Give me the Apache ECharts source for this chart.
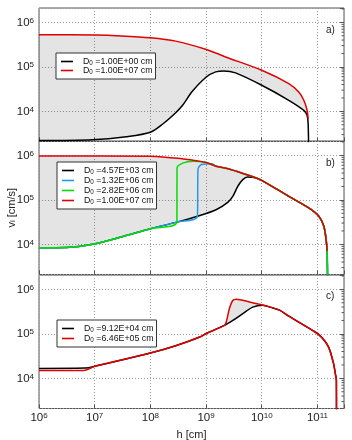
<!DOCTYPE html>
<html><head><meta charset="utf-8">
<script src="https://cdn.jsdelivr.net/npm/echarts@6/dist/echarts.min.js"></script>
<style>html,body{margin:0;padding:0;background:#fff}#c{width:352px;height:440px}</style>
</head><body><div id="c"></div>
<script>
// ---- tick labels (exponents of 10) ----
const xTickExps = [6, 7, 8, 9, 10, 11];
const yTickExps = [4, 5, 6];
const yMinorMult = [2, 3, 4, 5, 6, 7, 8, 9];
const yMinorDecades = [1e3, 1e4, 1e5, 1e6];
const panelTags = ['a)', 'b)', 'c)'];

// ---- panel a ----
const aNames = ['1.00E+00', '1.00E+07'];
const aBlack = [[1e6,2.2e3],[9.1e6,2.3e3],[3.7e7,2.7e3],[1e8,3.4e3],[1.67e8,5.2e3],[2.85e8,9.3e3],[3.76e8,1.35e4],
  [5.68e8,2.82e4],[1.01e9,5.9e4],[1.49e9,7.7e4],[2.09e9,8.1e4],[3.39e9,7.3e4],[1e10,3.85e4],[3.06e10,1.77e4],
  [5.69e10,1.05e4],[6.53e10,8.1e3],[6.81e10,5.2e3],[6.98e10,1e3]];
const aRed = [[1e6,5.25e5],[1e7,5.18e5],[3e7,4.95e5],[1e8,4.5e5],[2.85e8,3.78e5],[1.01e9,2.46e5],[2.24e9,1.67e5],
  [1e10,8.4e4],[3.06e10,4.2e4],[4.62e10,2.72e4],[5.69e10,1.77e4],[6.53e10,1.05e4],[6.81e10,6.8e3]];

// ---- panel b ----
const bNames = ['4.57E+03', '1.32E+06', '2.82E+06', '1.00E+07'];
const bLow = [[1e6,8.4e3],[3.16e6,8.5e3],[9.1e6,1.0e4],[3.2e7,1.5e4],[1e8,2.24e4],[3.0e8,3.16e4]];
const bMid = [[7.0e8,4.27e4]];
const bGreenRise = [[3.01e8,5.2e5],[3.9e8,6.76e5],[5.9e8,7.35e5],[1.01e9,6.9e5]];
const bBlueRise = [[7.16e8,4.8e5],[8.3e8,6.2e5],[1.26e9,6.46e5]];
const bBlackRise = [[1.51e9,6.0e4],[2.45e9,8.8e4],[3.02e9,1.2e5],[3.72e9,2.02e5],[4.57e9,2.85e5],[5.62e9,3.24e5]];
const bRed = [[1e6,9.7e5],[1e8,9.6e5],[3.9e8,8.3e5],[1.01e9,6.9e5],[1.51e9,5.7e5],[2.5e9,5.0e5],[5.25e9,3.7e5],
  [7.94e9,3.1e5],[1e10,2.75e5],[3.06e10,1.2e5],[7.0e10,6.6e4],[1.06e11,4.27e4],[1.3e11,2.57e4],[1.43e11,1.29e4],[1.49e11,7.1e3]];
const bDrop = [[1.53e11,1e3]];

// ---- panel c ----
const cNames = ['9.12E+04', '6.46E+05'];
const cBlackStart = [[1e6,1.67e4],[6.6e6,1.7e4]];
const cRedStart = [[1e6,1.5e4],[6.3e6,1.5e4]];
const cLow = [[1e7,1.86e4],[1e8,3.7e4],[2.85e8,5.4e4],[7.7e8,8.5e4],[1.01e9,1.02e5],[2.14e9,1.55e5]];
const cBlackMid = [[3.02e9,2.0e5],[4.57e9,2.85e5],[6.9e9,3.98e5],[1.05e10,4.37e5],[1.58e10,3.8e5]];
const cRedMid = [[2.31e9,1.86e5],[2.63e9,3.7e5],[3.02e9,5.6e5],[3.47e9,5.97e5],[6.0e9,5.2e5],[1.2e10,4.23e5]];
const cTail = [[2.09e10,3.4e5],[3.06e10,2.5e5],[9.1e10,1.1e5],[1.2e11,8.3e4],[1.58e11,5.1e4],[1.95e11,2.14e4],
  [2.09e11,1.29e4],[2.19e11,9.1e3],[2.2e11,1e3]];

// ---- build curves ----
const after = (arr, x) => arr.filter(p => p[0] > x);
const bGreen = bLow.concat(bGreenRise, after(bRed, 1.01e9), bDrop);
const bBlue = bLow.concat(bMid, bBlueRise, after(bRed, 1.3e9), bDrop);
const bBlack = bLow.concat(bMid, bBlackRise, after(bRed, 5.7e9), bDrop);
const cBlack = cBlackStart.concat(cLow, cBlackMid, cTail);
const cRed = cRedStart.concat(cLow, cRedMid, cTail);
const yMinor = [];
yMinorDecades.forEach(d => yMinorMult.forEach(m => yMinor.push(d * m)));

const FONT = "'Liberation Sans',Arial,sans-serif";
const TXT = '#222';
const tops = [8, 141, 275];
const H = 133.5;
const XMIN = 1e6, XMAX = 3e11, YMIN = 2.1e3, YMAX = 2.1e6;
const SMOOTH = 0.3;

function expLabel(v, exps) {
  const l = Math.log10(v), e = Math.round(l);
  if (Math.abs(l - e) > 1e-6 || exps.indexOf(e) < 0) return '';
  return '{b|10}{s|' + e + '}';
}
const labRich = {
  b: {fontSize: 11.5, fontFamily: FONT, color: TXT},
  s: {fontSize: 8, fontFamily: FONT, color: TXT, verticalAlign: 'top'}
};
const gridLine = {show: true, lineStyle: {color: '#9a9a9a', width: 1, type: [1, 2]}};

const grids = [], xAxes = [], yAxes = [], series = [], legends = [], titles = [];
for (let i = 0; i < 3; i++) {
  grids.push({left: 39, width: 305, top: tops[i], height: H, show: true, borderColor: '#555', borderWidth: 1,
    backgroundColor: 'transparent', outerBoundsMode: 'none', containLabel: false});
  xAxes.push({type: 'log', logBase: 10, gridIndex: i, min: XMIN, max: XMAX,
    axisLine: {show: false}, axisTick: {show: true, inside: true, length: 4, lineStyle: {color: '#555'}},
    axisLabel: {show: i === 2, margin: 3, formatter: v => expLabel(v, xTickExps), rich: labRich,
      showMinLabel: true, showMaxLabel: true},
    splitLine: gridLine,
    name: i === 2 ? 'h [cm]' : '', nameLocation: 'middle', nameGap: 21,
    nameTextStyle: {fontSize: 11, fontFamily: FONT, color: TXT}});
  yAxes.push({type: 'log', logBase: 10, gridIndex: i, min: YMIN, max: YMAX, position: 'left',
    axisLine: {show: false}, axisTick: {show: false},
    axisLabel: {margin: 5, formatter: v => expLabel(v, yTickExps), rich: labRich},
    splitLine: gridLine,
    name: i === 1 ? '{n|v}{u|i}{n| [cm/s]}' : '', nameLocation: 'middle', nameGap: 22, nameRotate: 90,
    nameMoveOverlap: false,
    nameTextStyle: {rich: {n: {fontSize: 11, fontFamily: FONT, color: TXT},
      u: {fontSize: 7.5, fontFamily: FONT, color: TXT, verticalAlign: 'bottom'}}}});
  yAxes.push({type: 'log', logBase: 10, gridIndex: i, min: YMIN, max: YMAX, position: 'right',
    axisLine: {show: false}, axisLabel: {show: false}, splitLine: {show: false},
    axisTick: {show: true, inside: true, length: 4, lineStyle: {color: '#555'}}});
  titles.push({text: panelTags[i], left: 326, top: [25, 158, 291][i], padding: 0,
    textStyle: {fontSize: 10, fontWeight: 'normal', fontFamily: FONT, color: TXT}});
  // minor ticks on the right edge, placed through the axis scale
  series.push({type: 'custom', xAxisIndex: i, yAxisIndex: 2 * i + 1, z: 4, silent: true, animation: false,
    data: yMinor.filter(v => v > YMIN && v < YMAX).map(v => [XMAX, v]),
    renderItem: (params, api) => {
      const p = api.coord([api.value(0), api.value(1)]);
      return {type: 'line', shape: {x1: p[0] - 2.5, y1: p[1], x2: p[0], y2: p[1]},
        style: {stroke: '#555', lineWidth: 1}};
    }});
}

function fill(i, upper, lower) {
  series.push({type: 'custom', xAxisIndex: i, yAxisIndex: 2 * i, z: 1, silent: true, animation: false,
    data: [[XMIN, YMIN]],
    renderItem: (params, api) => {
      const up = upper.map(p => api.coord(p));
      const lo = lower.slice().reverse().map(p => api.coord(p));
      return {type: 'polygon', shape: {points: up.concat(lo)}, style: {fill: 'rgba(0,0,0,0.105)', stroke: null}};
    }});
}
function line(i, tag, name, data, color) {
  series.push({type: 'line', name: tag + ':' + name, xAxisIndex: i, yAxisIndex: 2 * i, data: data,
    symbol: 'none', showSymbol: false, clip: true, animation: false, z: 3,
    smooth: SMOOTH,
    lineStyle: {color: color, width: 1.5}, itemStyle: {color: color}});
}

fill(0, aRed, aBlack.slice(0, -1));
line(0, 'a', aNames[0], aBlack, '#000000');
line(0, 'a', aNames[1], aRed, '#e00000');

fill(1, bRed, bBlack.slice(0, -1));
line(1, 'b', bNames[0], bBlack, '#000000');
line(1, 'b', bNames[1], bBlue, '#1f9be8');
line(1, 'b', bNames[2], bGreen, '#00dd00');
line(1, 'b', bNames[3], bRed, '#e00000');

fill(2, cRedMid.concat([cTail[0]]), cLow.slice(-1).concat(cBlackMid, [cTail[0]]));
line(2, 'c', cNames[0], cBlack, '#000000');
line(2, 'c', cNames[1], cRed, '#e00000');

const legRich = {
  d: {fontSize: 8.8, fontFamily: FONT, color: '#111', padding: [0, 0, 0, 5]},
  t: {fontSize: 8.8, fontFamily: FONT, color: '#111'},
  u: {fontSize: 6.3, fontFamily: FONT, color: '#111', verticalAlign: 'bottom'}
};
function legend(tag, names, left, top, gap) {
  legends.push({orient: 'vertical', left: left, top: top, data: names.map(n => tag + ':' + n),
    icon: 'rect', itemWidth: 12, itemHeight: 1.6, itemGap: gap, padding: [4, 3, 4, 5],
    borderColor: '#333', borderWidth: 1, backgroundColor: '#fff',
    textStyle: {rich: legRich, fontSize: 8.8, fontFamily: FONT},
    formatter: n => '{d|D}{u|0}{t| =' + n.split(':')[1] + ' cm}'});
}
legend('a', aNames, 56, 53, 0);
legend('b', bNames, 57, 162, 1);
legend('c', cNames, 57, 320, 1);

const chart = echarts.init(document.getElementById('c'), null, {renderer: 'canvas'});
chart.setOption({animation: false, backgroundColor: '#fff', grid: grids, xAxis: xAxes, yAxis: yAxes,
  series: series, legend: legends, title: titles});
</script></body></html>
